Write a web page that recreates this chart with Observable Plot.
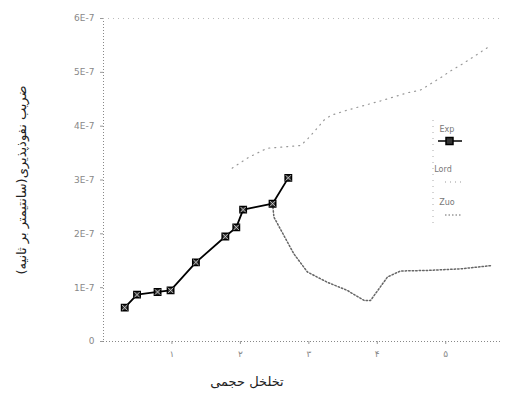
<!DOCTYPE html>
<html><head><meta charset="utf-8">
<script src="https://cdn.jsdelivr.net/npm/d3@7"></script>
<script src="https://cdn.jsdelivr.net/npm/@observablehq/plot@0.6"></script>
<style>body{margin:0;background:#fff;font-family:"DejaVu Sans",sans-serif}</style>
</head><body><div id="chart"></div>
<script>
const expX = [0.31,0.49,0.79,0.98,1.35,1.78,1.94,2.04,2.47,2.70];
const expY = [0.63,0.87,0.92,0.95,1.47,1.95,2.12,2.45,2.56,3.04];
const m1X = [1.88,2.12,2.39,2.88,2.98,3.10,3.22,3.32,3.54,4.05,4.44,4.63,4.95,5.05,5.25,5.66];
const m1Y = [3.22,3.42,3.59,3.64,3.76,3.93,4.11,4.20,4.29,4.47,4.62,4.67,4.92,5.01,5.16,5.50];
const m2X = [2.47,2.49,2.78,2.98,3.27,3.56,3.81,3.90,4.15,4.34,4.73,5.22,5.66];
const m2Y = [2.56,2.31,1.63,1.29,1.10,0.95,0.76,0.76,1.20,1.31,1.32,1.35,1.41];
const xTicks = [1,2,3,4,5];
const xTickLabels = ["۱","۲","۳","۴","۵"];
const yTicks = [0,1,2,3,4,5,6];
const yTickLabels = ["0","1E-7","2E-7","3E-7","4E-7","5E-7","6E-7"];
const seriesNames = ["Exp","Lord","Zuo"];
const xTitle = "تخلخل حجمی";
const yTitle = "ضریب نفوذپذیری(سانتیمتر بر ثانیه)";

const exp = expX.map((x,i)=>({x,y:expY[i]}));
const m1 = m1X.map((x,i)=>({x,y:m1Y[i]}));
const m2 = m2X.map((x,i)=>({x,y:m2Y[i]}));

const chart = Plot.plot({
  width: 506, height: 416,
  marginLeft: 103, marginRight: 6, marginTop: 18, marginBottom: 75,
  style: {fontFamily: "DejaVu Sans, sans-serif", fontSize: "9px", color: "#999"},
  x: {domain: [0, 5.8], ticks: xTicks, tickFormat: (d)=>xTickLabels[xTicks.indexOf(d)], label: null, tickSize: 3, tickPadding: 6},
  y: {domain: [0, 6], ticks: yTicks, tickFormat: d=>yTickLabels[yTicks.indexOf(d)], label: null, tickSize: 3, tickPadding: 6},
  marks: [
    Plot.ruleX([0], {stroke: "#888", strokeDasharray: "1,2"}),
    Plot.ruleY([0], {stroke: "#888", strokeDasharray: "1,2"}),
    Plot.ruleY([6], {stroke: "#bbb", strokeDasharray: "1,4"}),
    Plot.line(m1, {x: "x", y: "y", stroke: "#999", strokeWidth: 1.2, strokeDasharray: "1,5"}),
    Plot.line(m2, {x: "x", y: "y", stroke: "#666", strokeWidth: 1.5, strokeDasharray: "1.5,2"}),
    Plot.line(exp, {x: "x", y: "y", stroke: "#000", strokeWidth: 1.8}),
    Plot.dot(exp, {x: "x", y: "y", symbol: "square", r: 3.6, fill: "#333", stroke: "#000", strokeWidth: 1.5}),
    Plot.dot(exp, {x: "x", y: "y", symbol: "times", r: 2.6, stroke: "#ddd", strokeWidth: 0.8})
  ]
});
const svg = d3.select(chart);
svg.selectAll("[aria-label='x-axis tick label'] text, [aria-label='y-axis tick label'] text").attr("fill", "#888");
svg.selectAll("[aria-label='x-axis tick'], [aria-label='y-axis tick']").attr("stroke", "#999");
svg.append("text").attr("x", 247).attr("y", 386).attr("text-anchor", "middle")
  .attr("font-size", 13).attr("fill", "#222").attr("direction", "rtl").text(xTitle);
svg.append("text").attr("transform", "translate(22,180) rotate(-90)").attr("text-anchor", "middle")
  .attr("font-size", 13).attr("fill", "#222").attr("direction", "rtl").attr("dominant-baseline", "middle").text(yTitle);
// legend
const lg = svg.append("g").attr("font-size", 8).attr("fill", "#777");
lg.append("line").attr("x1", 433).attr("x2", 433).attr("y1", 120).attr("y2", 228).attr("stroke", "#aaa").attr("stroke-dasharray", "1,5");
lg.append("text").attr("x", 447).attr("y", 132).text(seriesNames[0]);
lg.append("line").attr("x1", 438).attr("x2", 462).attr("y1", 141).attr("y2", 141).attr("stroke", "#000").attr("stroke-width", 1.5);
lg.append("rect").attr("x", 446).attr("y", 137.5).attr("width", 7).attr("height", 7).attr("fill", "#333").attr("stroke", "#000").attr("stroke-width", 1.5);
lg.append("text").attr("x", 443).attr("y", 172).text(seriesNames[1]);
lg.append("line").attr("x1", 445).attr("x2", 462).attr("y1", 182).attr("y2", 182).attr("stroke", "#999").attr("stroke-dasharray", "1,4");
lg.append("text").attr("x", 447).attr("y", 205).text(seriesNames[2]);
lg.append("line").attr("x1", 445).attr("x2", 462).attr("y1", 215).attr("y2", 215).attr("stroke", "#666").attr("stroke-dasharray", "1.5,2");
document.getElementById("chart").appendChild(chart);
</script>
</body></html>
